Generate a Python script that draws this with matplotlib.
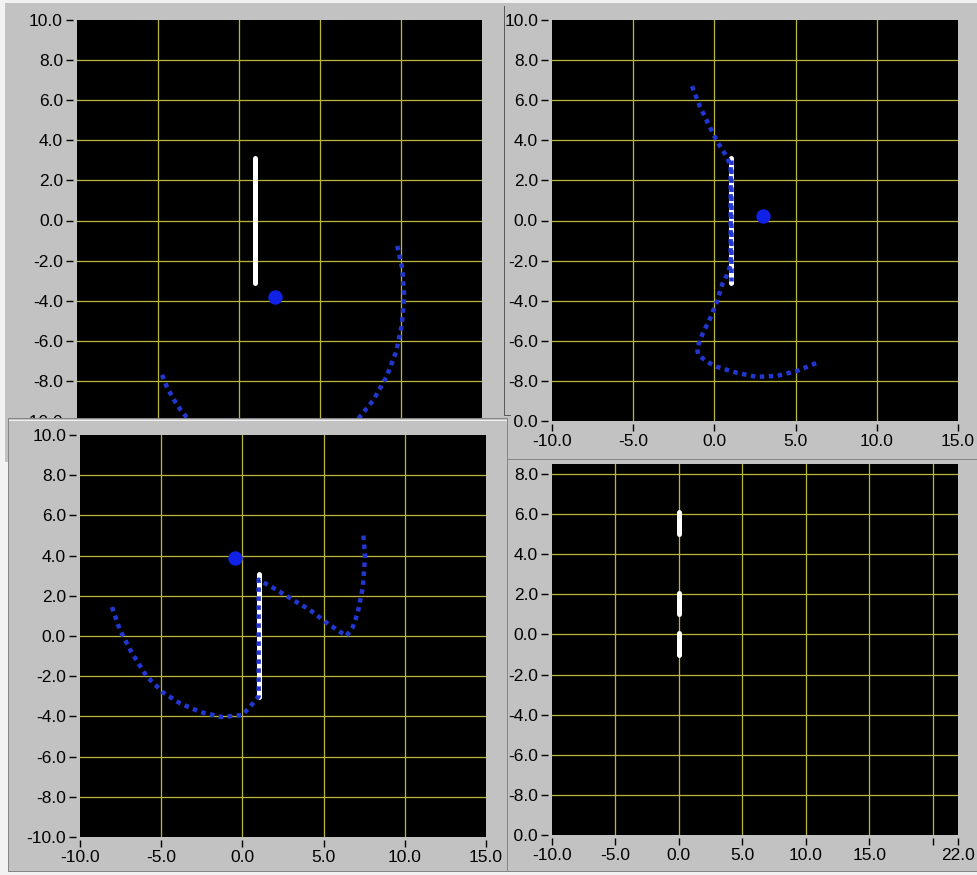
import matplotlib
matplotlib.use("Agg")
import matplotlib.pyplot as plt
from matplotlib.patches import Rectangle
from matplotlib.lines import Line2D
from matplotlib.transforms import Affine2D

W, H = 977, 875

# ---------------- data ----------------
# shared axis ticks
y_ticks = [-10, -8, -6, -4, -2, 0, 2, 4, 6, 8, 10]
x_ticks = [-10, -5, 0, 5, 10, 15]
x_ticks_wide = [-10, -5, 0, 5, 10, 15, 20, 22]
x_labels_wide = ["-10.0", "-5.0", "0.0", "5.0", "10.0", "15.0", "", "22.0"]
y_ticks_short = [-10, -8, -6, -4, -2, 0, 2, 4, 6, 8]

# panel A (top left)
a_bar_x = [1.0, 1.0]
a_bar_y = [3.1, -3.1]
a_dot_x = [2.2]
a_dot_y = [-3.8]
a_path_x = [-4.75, -4.45, -4.05, -3.6, -3.05, -2.5, -1.5, 0.5, 2.2, 4.0, 5.8,
            6.8, 7.35, 8.3, 9.1, 9.7, 10.05, 10.2, 10.08, 9.75]
a_path_y = [-7.7, -8.3, -8.9, -9.45, -10.0, -10.4, -10.9, -11.6, -11.8, -11.6, -10.95,
            -10.35, -9.9, -8.95, -7.8, -6.55, -5.2, -3.8, -2.4, -1.2]

# panel B (top right)
b_bar_x = [1.0, 1.0]
b_bar_y = [3.1, -3.1]
b_dot_x = [3.0]
b_dot_y = [0.2]
b_path_x = [-1.38, -0.9, -0.15, 0.16, 0.47, 0.78, 1.0, 1.0, 0.78, 0.5, 0.15, -0.3,
            -0.7, -1.07, -1.0, -0.45, 0.15, 1.4, 2.6, 3.85, 5.1, 6.3]
b_path_y = [6.7, 5.7, 4.45, 3.95, 3.55, 3.15, 2.7, -2.2, -2.7, -3.15, -4.05, -4.95,
            -5.6, -6.35, -6.7, -7.05, -7.3, -7.6, -7.8, -7.75, -7.5, -7.1]

# panel C (bottom left)
c_bar_x = [1.0, 1.0]
c_bar_y = [3.1, -3.05]
c_dot_x = [-0.45]
c_dot_y = [3.9]
c_path_x = [-8.03, -7.54, -6.8, -5.9, -4.9, -3.84, -2.6, -1.26, 0.0, 0.65, 1.0, 1.0,
            2.1, 3.1, 4.15, 5.2, 6.4, 6.8, 7.1, 7.42, 7.55, 7.45]
c_path_y = [1.44, 0.3, -0.85, -2.0, -2.8, -3.35, -3.78, -4.03, -3.93, -3.35, -3.0, 2.8,
            2.3, 1.8, 1.3, 0.65, 0.0, 0.45, 1.14, 2.44, 3.93, 5.0]

# panel D (bottom right): short vertical segments
d_seg_x = [0.0, 0.0, 0.0]
d_seg_top = [6.1, 2.05, 0.05]
d_seg_bottom = [5.0, 1.0, -1.0]

# ---------------- style ----------------
FRAME = "#c2c2c2"
EDGE = "#858585"
GRID = "#b8b43a"
BLUE_PATH = "#2236d0"
BLUE_DOT = "#1022e6"
FONT = "Liberation Sans"
FS = 12.5

plt.rcParams["axes.unicode_minus"] = False
fig = plt.figure(figsize=(W / 100, H / 100), dpi=100, facecolor="#f2f2f2")

# pixel coordinates (origin at top left) -> display
pix = Affine2D().scale(1.0 / W, -1.0 / H).translate(0, 1) + fig.transFigure

PX = 72.0 / 100.0  # points per pixel


def frame(x0, y0, x1, y1, z, edge=None):
    r = Rectangle((x0, y1), x1 - x0, y0 - y1, transform=pix, facecolor=FRAME,
                  edgecolor=edge if edge else "none", linewidth=1.0 * PX, zorder=z)
    fig.add_artist(r)
    return r


def make_axes(l, t, r, b, xlim, ylim, xt, xtl, yt, ytl, z):
    ax = fig.add_axes([l / W, 1 - b / H, (r - l) / W, (b - t) / H])
    ax.set_zorder(z)
    ax.set_facecolor("black")
    ax.set_xlim(*xlim)
    ax.set_ylim(*ylim)
    for s in ax.spines.values():
        s.set_color("none")
    ax.spines["left"].set_position(("outward", 4 * PX))
    ax.spines["bottom"].set_position(("outward", 3 * PX))
    ax.set_xticks(xt)
    ax.set_xticklabels(xtl)
    ax.set_yticks(yt)
    ax.set_yticklabels(ytl)
    ax.tick_params(axis="both", direction="out", length=7 * PX, width=1.0,
                   color="black", labelsize=FS, labelcolor="black")
    ax.tick_params(axis="y", pad=3 * PX)
    ax.tick_params(axis="x", pad=3 * PX)
    for lab in ax.get_xticklabels() + ax.get_yticklabels():
        lab.set_family(FONT)
    # interior grid lines
    for gx in xt:
        if xlim[0] < gx < xlim[1]:
            ax.axvline(gx, color=GRID, lw=1.3 * PX, zorder=1)
    for gy in yt:
        if ylim[0] < gy < ylim[1]:
            ax.axhline(gy, color=GRID, lw=1.3 * PX, zorder=1)
    return ax


def fmt(vals):
    return ["%.1f" % v for v in vals]


def draw_path(ax, xs, ys):
    ax.plot(xs, ys, color=BLUE_PATH, lw=4.5 * PX, linestyle=(0, (1.0, 1.0)),
            dash_capstyle="butt", zorder=4)


def draw_bar(ax, xs, ys):
    ax.plot(xs, ys, color="white", lw=5 * PX, solid_capstyle="round", zorder=3)


def draw_dot(ax, xs, ys):
    ax.plot(xs, ys, "o", color=BLUE_DOT, ms=13 * PX, mec=BLUE_DOT, zorder=5)


def clip_first_ylabel(ax, x_from):
    tick = ax.yaxis.get_major_ticks()[0]
    clip = Rectangle((x_from, 0), W, H, transform=pix, facecolor="none", edgecolor="none")
    tick.label1.set_clip_path(clip)


# ---------------- panel A (top left) ----------------
frame(5, 3, 503, 462, z=1)
axA = make_axes(77, 20, 482, 421, (-10, 15), (-10, 10), x_ticks, fmt(x_ticks),
                y_ticks, fmt(y_ticks), z=2)
draw_bar(axA, a_bar_x, a_bar_y)
draw_path(axA, a_path_x, a_path_y)
draw_dot(axA, a_dot_x, a_dot_y)

# ---------------- panel B (top right) ----------------
frame(503, 3, 977, 460, z=3)
axB = make_axes(552, 20, 958, 421, (-10, 15), (-10, 10), x_ticks, fmt(x_ticks),
                y_ticks, fmt(y_ticks), z=4)
draw_bar(axB, b_bar_x, b_bar_y)
draw_path(axB, b_bar_x, [3.0, -3.0])
draw_path(axB, b_path_x, b_path_y)
draw_dot(axB, b_dot_x, b_dot_y)
clip_first_ylabel(axB, 513)
fig.add_artist(Line2D([503.5, 503.5, 510], [6, 415, 415], transform=pix,
                      color="#5a5a5a", lw=1.0 * PX, zorder=4.5))

# ---------------- panel D (bottom right) ----------------
frame(507, 459, 977, 871, z=5, edge=EDGE)
axD = make_axes(552, 464, 958, 835, (-10, 22), (-10, 8.5), x_ticks_wide, x_labels_wide,
                y_ticks_short, fmt(y_ticks_short), z=6)
for sx, st, sb in zip(d_seg_x, d_seg_top, d_seg_bottom):
    axD.plot([sx, sx], [st, sb], color="white", lw=5 * PX, solid_capstyle="round", zorder=3)
clip_first_ylabel(axD, 513)

# ---------------- panel C (bottom left) ----------------
frame(8, 418, 507, 871, z=7, edge=EDGE)
fig.add_artist(Line2D([9, 506], [419.5, 419.5], transform=pix, color="#f0f0f0",
                      lw=1.0 * PX, zorder=7.5))
axC = make_axes(80, 435, 486, 837, (-10, 15), (-10, 10), x_ticks, fmt(x_ticks),
                y_ticks, fmt(y_ticks), z=8)
draw_bar(axC, c_bar_x, c_bar_y)
draw_path(axC, c_path_x, c_path_y)
draw_dot(axC, c_dot_x, c_dot_y)

fig.savefig("out.png", dpi=100, facecolor=fig.get_facecolor())
